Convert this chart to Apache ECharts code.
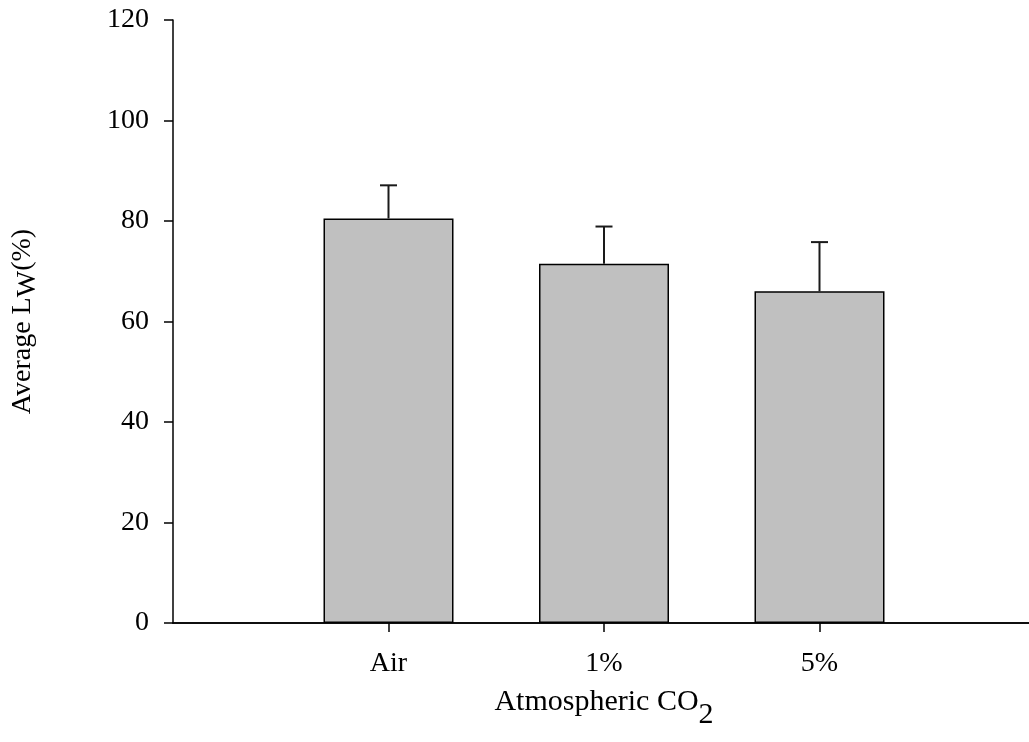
<!DOCTYPE html>
<html>
<head>
<meta charset="utf-8">
<script src="https://cdn.jsdelivr.net/npm/echarts@6/dist/echarts.min.js"></script>
<style>
  html, body { margin: 0; padding: 0; background: #ffffff; }
  #chart { width: 1029px; height: 742px; }
</style>
</head>
<body>
<div id="chart"></div>
<script>
// Treatments (empty slots pad the axis on both ends)
const categories = ['', 'Air', '1%', '5%', ''];
// Mean leaf water content per CO2 treatment
const meanValues = [null, 80.5, 71.5, 66.0, null];
// Standard deviation (upper whisker only)
const sdValues = [null, 6.6, 7.4, 9.8, null];
// Y-axis ticks
const yTicks = [0, 20, 40, 60, 80, 100, 120];

const FONT = '"Liberation Serif", "Times New Roman", serif';

const chart = echarts.init(document.getElementById('chart'), null, { renderer: 'canvas' });

const errorData = meanValues
  .map((m, i) => (m === null ? null : [i, m, m + sdValues[i]]))
  .filter(d => d !== null);

chart.setOption({
  backgroundColor: '#ffffff',
  animation: false,
  grid: {
    left: 173, right: -6, top: 20, bottom: 119,
    containLabel: false,
    outerBoundsMode: 'none'
  },
  xAxis: [
    {
      type: 'category',
      data: categories,
      boundaryGap: false,
      axisLine: { show: true, onZero: false, lineStyle: { color: '#000', width: 1.5 } },
      axisTick: {
        show: true, length: 9, inside: false,
        interval: (idx, val) => val !== '',
        lineStyle: { color: '#000', width: 1.5 }
      },
      axisLabel: {
        interval: 0, margin: 27,
        fontFamily: FONT, fontSize: 28, color: '#000'
      },
      splitLine: { show: false },
      name: '{n|Atmospheric CO}{s|2}',
      nameLocation: 'middle',
      nameGap: 51,
      nameTextStyle: {
        rich: {
          n: { fontFamily: FONT, fontSize: 30, color: '#000', verticalAlign: 'middle', lineHeight: 30 },
          s: { fontFamily: FONT, fontSize: 30, color: '#000', verticalAlign: 'bottom', lineHeight: 56 }
        }
      }
    },
    {
      type: 'category',
      data: categories,
      position: 'top',
      boundaryGap: false,
      axisLine: { show: true, lineStyle: { color: '#000', width: 1.5 } },
      axisTick: { show: false },
      axisLabel: { show: false },
      splitLine: { show: false }
    }
  ],
  yAxis: {
    type: 'value',
    min: yTicks[0],
    max: yTicks[yTicks.length - 1],
    interval: 20,
    axisLine: { show: true, lineStyle: { color: '#000', width: 1.5 } },
    axisTick: { show: true, length: 9, inside: false, lineStyle: { color: '#000', width: 1.5 } },
    axisLabel: { margin: 24, fontFamily: FONT, fontSize: 28, color: '#000' },
    splitLine: { show: false },
    name: '{n|Average L}{s|W}{n|(%)}',
    nameLocation: 'middle',
    nameRotate: 90,
    nameGap: 131,
    nameTextStyle: {
      rich: {
        n: { fontFamily: FONT, fontSize: 28, color: '#000', verticalAlign: 'middle', lineHeight: 28 },
        s: { fontFamily: FONT, fontSize: 28, color: '#000', verticalAlign: 'bottom', lineHeight: 38 }
      }
    }
  },
  series: [
    {
      type: 'bar',
      data: meanValues,
      barWidth: 130,
      itemStyle: { color: '#c0c0c0', borderColor: '#000', borderWidth: 1.5 },
      z: 2
    },
    {
      type: 'custom',
      data: errorData,
      z: 3,
      renderItem: function (params, api) {
        const base = api.coord([api.value(0), api.value(1)]);
        const top = api.coord([api.value(0), api.value(2)]);
        const half = 8.5;
        const style = { stroke: '#1a1a1a', lineWidth: 2 };
        return {
          type: 'group',
          children: [
            { type: 'line', shape: { x1: base[0], y1: base[1], x2: top[0], y2: top[1] }, style },
            { type: 'line', shape: { x1: top[0] - half, y1: top[1], x2: top[0] + half, y2: top[1] }, style }
          ]
        };
      }
    }
  ]
});
</script>
</body>
</html>
